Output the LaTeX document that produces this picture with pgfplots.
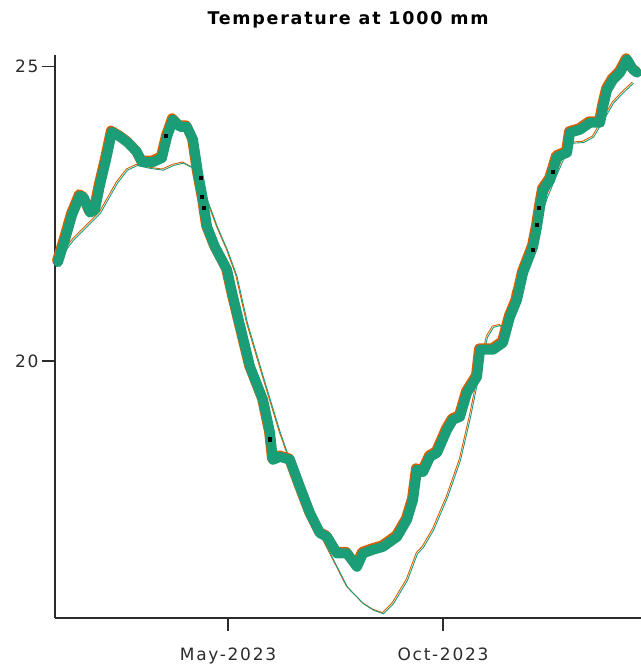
\documentclass[border=0pt]{standalone}
\usepackage{pgfplots}
\usepackage{pgfplotstable}
\usepackage{fontspec}
\pgfplotsset{compat=1.18}
\setmainfont{DejaVu Sans}[LetterSpace=10]

\definecolor{obsgreen}{HTML}{1B9E77}
\definecolor{obsorange}{HTML}{D95F02}
\definecolor{axisgray}{HTML}{2B2B2B}

% day = days since 1 Jan 2023, t = temperature (deg C)
\pgfplotstableread{
day t
-1.0 21.68
4.0 22.06
9.0 22.48
14.7 22.81
17.5 22.77
21.8 22.52
25.3 22.57
28.9 22.99
33.2 23.42
37.4 23.89
43.1 23.81
48.8 23.71
55.2 23.55
58.8 23.38
66.6 23.38
73.0 23.45
76.6 23.81
80.9 24.10
85.8 23.98
90.8 23.98
95.1 23.76
98.6 23.20
102.2 22.74
105.1 22.28
110.7 21.94
119.3 21.55
123.6 21.09
135.7 19.90
144.9 19.34
149.9 18.78
152.0 18.32
157.0 18.37
164.1 18.32
171.2 17.86
178.4 17.41
185.5 17.07
190.5 17.01
197.6 16.73
204.7 16.73
211.8 16.50
216.1 16.73
223.2 16.79
230.3 16.84
240.3 17.01
247.4 17.30
251.7 17.64
254.5 18.15
258.8 18.11
263.8 18.37
268.8 18.44
275.9 18.83
280.1 19.00
285.1 19.05
290.1 19.46
297.2 19.73
299.4 20.19
308.6 20.19
315.7 20.31
320.7 20.75
325.7 21.04
330.0 21.50
337.1 21.94
339.9 22.28
342.1 22.62
344.2 22.91
349.2 23.08
354.2 23.47
361.3 23.54
363.4 23.88
370.5 23.93
377.7 24.05
384.8 24.05
386.9 24.32
389.8 24.61
394.0 24.78
399.0 24.90
404.0 25.12
408.3 24.95
411.1 24.90
}\obs

% simulated temperature
\pgfplotstableread{
day t
0.4 21.77
9.7 22.06
21.8 22.35
28.9 22.52
41.0 23.03
48.1 23.25
55.2 23.33
64.5 23.28
73.7 23.25
80.9 23.33
88.0 23.37
95.1 23.28
100.1 23.08
105.1 22.74
112.2 22.28
119.3 21.89
126.0 21.45
133.5 20.65
144.9 19.73
157.0 18.78
162.0 18.44
166.3 18.32
171.2 17.86
180.5 17.30
192.6 16.73
204.7 16.16
216.1 15.88
223.2 15.77
230.3 15.71
237.4 15.88
247.4 16.28
254.5 16.73
258.8 16.84
265.9 17.13
275.9 17.69
285.1 18.32
292.2 19.05
299.4 19.90
304.3 20.41
308.6 20.58
313.6 20.61
318.6 20.44
322.8 21.16
330.0 21.60
334.9 21.94
339.9 22.28
347.0 22.79
354.2 23.20
361.3 23.59
365.6 23.71
372.7 23.72
379.8 23.81
386.9 24.10
394.0 24.39
401.1 24.57
408.3 24.73
}\sim

% single readings from the backup logger
\pgfplotstableread{
day t
75.9 23.83
100.8 23.11
101.5 22.79
102.9 22.60
149.9 18.67
337.1 21.89
339.9 22.31
341.3 22.60
351.3 23.21
}\spot

\begin{document}
\begin{tikzpicture}
\begin{axis}[
  name=ax,
  scale only axis,
  width=586bp, height=563bp,
  xmin=-3.13, xmax=413.9,
  ymin=15.63, ymax=25.2,
  clip=false,
  axis x line*=bottom,
  axis y line*=left,
  axis line style={line width=1.3bp, axisgray, -},
  tick style={line width=1.3bp, axisgray},
  tick align=outside,
  major tick length=13bp,
  xtick={120,273},
  xticklabels={May-2023,Oct-2023},
  ytick={20,25},
  tick label style={font=\fontsize{17bp}{20bp}\selectfont, text=axisgray},
  xticklabel style={yshift=-13bp},
  /pgf/number format/assume math mode=true,
  title={Temperature at 1000 mm},
  title style={font=\bfseries\fontsize{17.5bp}{20bp}\selectfont, at={(0.5,1)}, anchor=base, yshift=25bp, inner sep=0pt},
]
\addplot[obsorange, line width=0.9bp, xshift=-0.7bp, yshift=0.7bp] table[x=day,y=t] {\sim};
\addplot[obsgreen, line width=0.9bp, xshift=0.5bp, yshift=-0.5bp] table[x=day,y=t] {\sim};
\addplot[obsorange, line width=10bp, line join=round, line cap=round, xshift=-1bp, yshift=1.4bp] table[x=day,y=t] {\obs};
\addplot[obsgreen, line width=10bp, line join=round, line cap=round] table[x=day,y=t] {\obs};
\addplot[only marks, mark=square*, mark size=1.6bp, black] table[x=day,y=t] {\spot};
\end{axis}
\pgfresetboundingbox
\path ([xshift=-55bp,yshift=-51bp]ax.south west) rectangle ([yshift=55bp]ax.north east);
\end{tikzpicture}
\end{document}
